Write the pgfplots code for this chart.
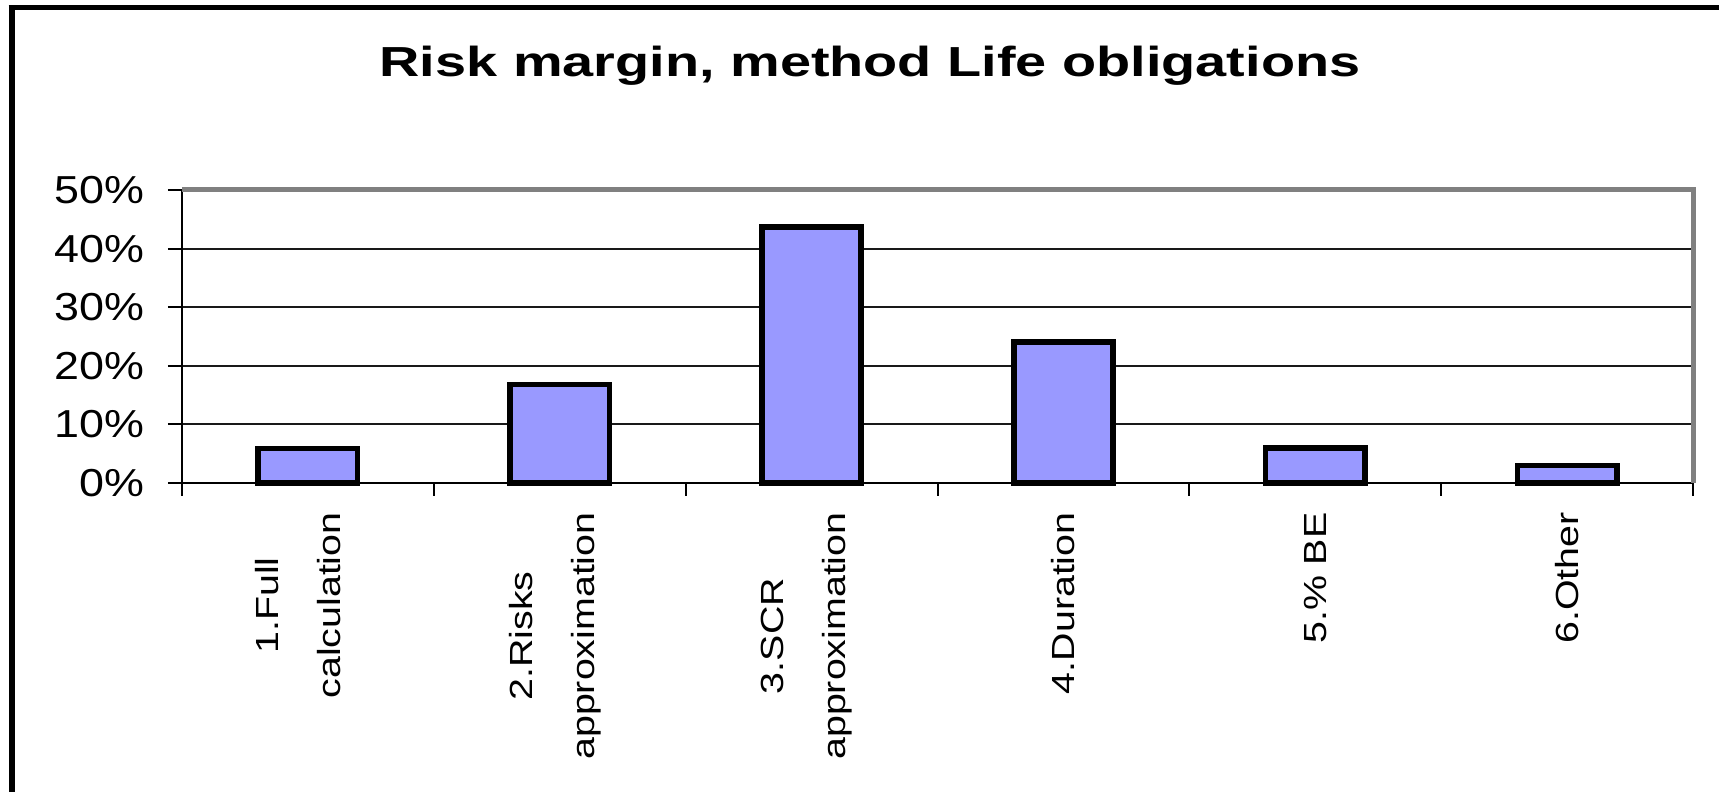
\documentclass[border=0pt]{standalone}
\usepackage{pgfplots}
\pgfplotsset{compat=1.18}
\usepackage{fontspec}
\setmainfont{Liberation Sans}
\definecolor{barfill}{HTML}{9999FF}
\definecolor{bordergray}{HTML}{808080}
\begin{document}
\begin{tikzpicture}
\useasboundingbox (0,0) rectangle (859.5pt,396pt);
\fill[white] (0,0) rectangle (859.5pt,396pt);
\draw[black, line width=3pt] (5.75pt,0) -- (5.75pt,393.5pt);
\draw[black, line width=2.5pt] (4.25pt,392.25pt) -- (859.5pt,392.25pt);
\node[anchor=base, font=\bfseries\fontsize{21}{24}\selectfont, xscale=1.33, inner sep=0pt] at (435pt,357.5pt) {Risk margin, method Life obligations};
\begin{axis}[
  at={(91pt,154.5pt)}, anchor=south west,
  scale only axis, width=755.5pt, height=146.5pt,
  xmin=-0.5, xmax=5.5, ymin=0, ymax=50,
  axis lines*=left,
  axis line style={black, line width=1.2pt},
  xtick={0,...,5},
  xticklabels={{1.Full\\calculation\rule[-10pt]{0pt}{0pt}},{2.Risks\\approximation\rule[-8pt]{0pt}{0pt}},{3.SCR\\approximation\rule[-8pt]{0pt}{0pt}},{4.Duration},{5.\% BE},{6.Other}},
  minor xtick={-0.5,0.5,...,5.5},
  every major x tick/.append style={draw=none},
  ytick={0,10,...,50},
  yticklabels={0\%,10\%,20\%,30\%,40\%,50\%},
  tick align=outside,
  major tick length=7pt, minor tick length=6.5pt,
  tick style={black, line width=1pt},
  ymajorgrids, major grid style={black!90, line width=1pt},
  yticklabel style={font=\fontsize{19.5}{20}\selectfont, xshift=-11.5pt, xscale=1.15, anchor=east, inner sep=0pt},
  xticklabel style={font=\fontsize{16}{31}\selectfont, align=center, yshift=-7.5pt, rotate=90, xscale=1.23, anchor=east, inner sep=0pt},
  clip=false,
]
\addplot[ybar, bar width=49.7pt, fill=barfill, draw=black, line width=2.8pt] coordinates {(0,5.9) (1,16.8) (2,43.7) (3,24.1) (4,6.0) (5,3.0)};
\draw[bordergray, line width=2.5pt] (rel axis cs:0,1) -- (rel axis cs:1,1) -- (rel axis cs:1,0);
\end{axis}
\end{tikzpicture}
\end{document}
